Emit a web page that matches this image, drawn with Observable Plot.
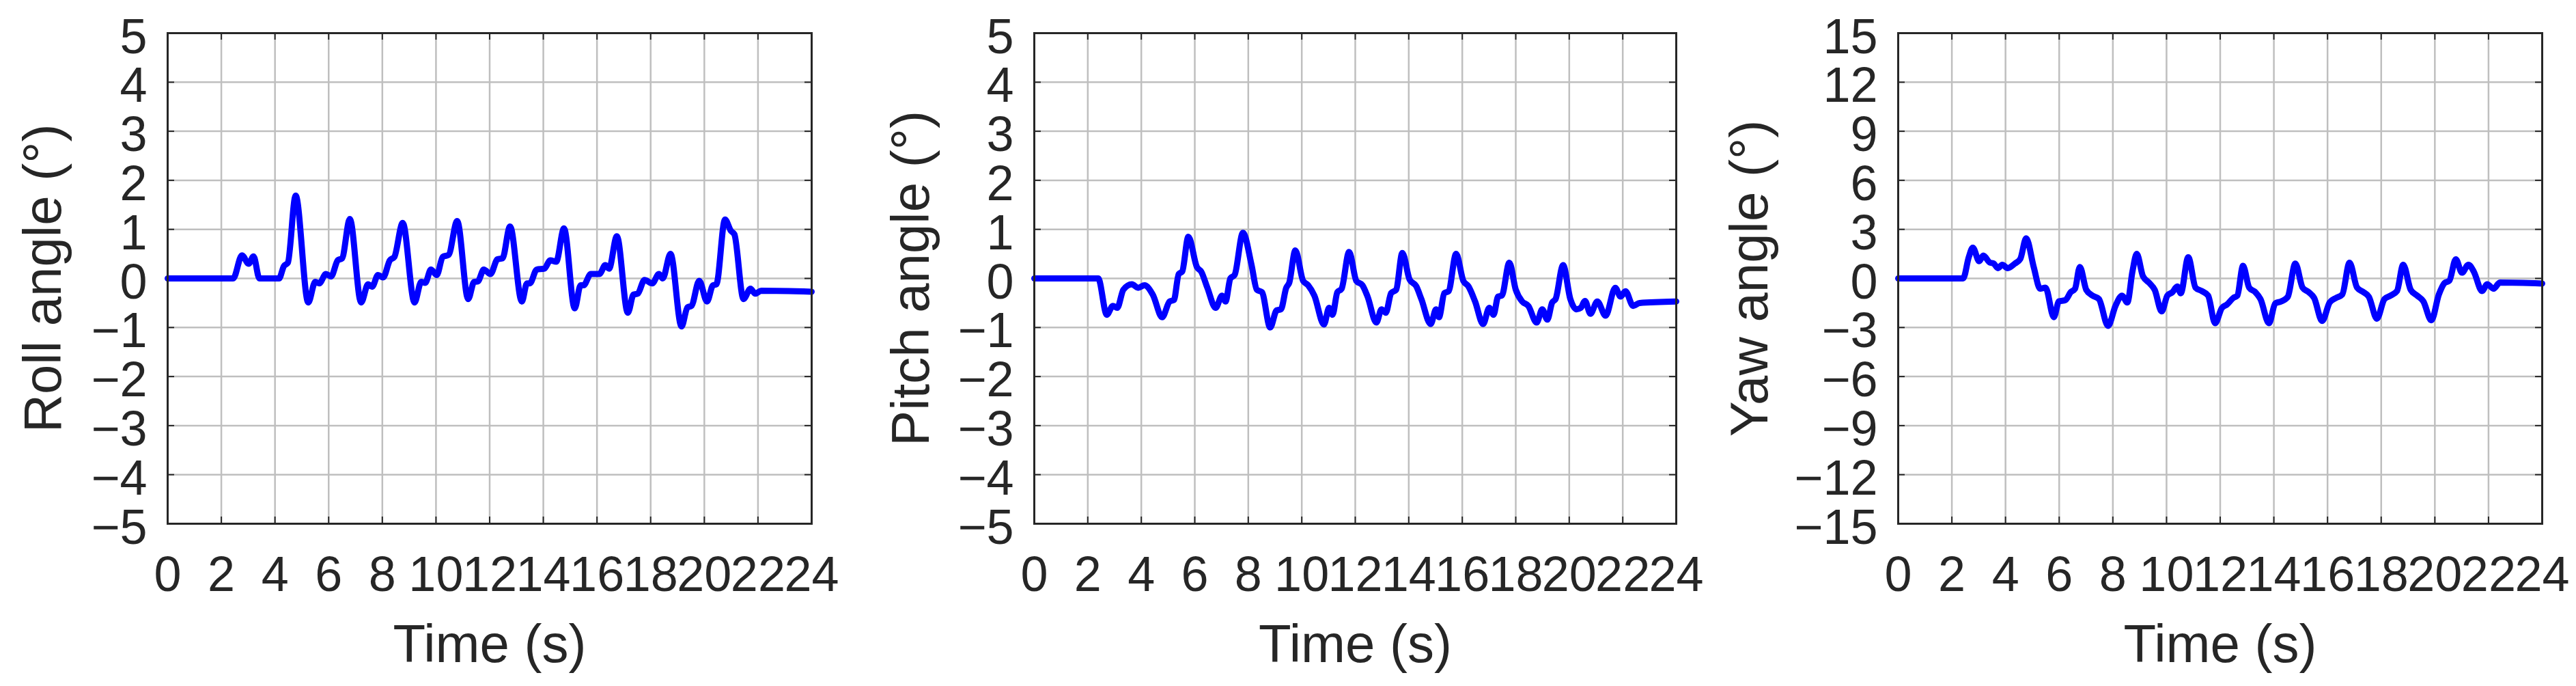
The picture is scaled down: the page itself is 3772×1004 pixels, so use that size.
<!DOCTYPE html>
<html>
<head>
<meta charset="utf-8">
<script src="https://cdn.jsdelivr.net/npm/d3@7"></script>
<script src="https://cdn.jsdelivr.net/npm/@observablehq/plot@0.6"></script>
<style>
  html, body { margin: 0; padding: 0; background: #fff; }
  #wrap { position: relative; width: 3772px; height: 1004px; overflow: hidden; }
  #wrap > div { position: absolute; top: 0; }
</style>
</head>
<body>
<div id="wrap"></div>
<script>
// ---------- data (time in s, angle in degrees) ----------
const xLabel = "Time (s)";
const yLabels = ["Roll angle (°)", "Pitch angle (°)", "Yaw angle (°)"];
const xTicks = [0, 2, 4, 6, 8, 10, 12, 14, 16, 18, 20, 22, 24];
const rollTicks = [-5, -4, -3, -2, -1, 0, 1, 2, 3, 4, 5];
const pitchTicks = [-5, -4, -3, -2, -1, 0, 1, 2, 3, 4, 5];
const yawTicks = [-15, -12, -9, -6, -3, 0, 3, 6, 9, 12, 15];

const roll = [
  [0,0],[2.44,0],[2.77,0.47],[3.02,0.30],[3.2,0.45],[3.42,0],[4.15,0],[4.33,0.25],[4.48,0.32],
  [4.77,1.69],[5.24,-0.49],[5.5,-0.07],[5.65,-0.1],[5.9,0.09],[6.09,0.04],[6.34,0.37],[6.5,0.41],
  [6.79,1.21],[7.21,-0.49],[7.47,-0.12],[7.62,-0.17],[7.84,0.07],[8.03,0.02],[8.28,0.37],[8.45,0.44],
  [8.76,1.13],[9.2,-0.49],[9.45,-0.07],[9.6,-0.09],[9.81,0.18],[10.03,0.07],[10.25,0.44],[10.47,0.48],
  [10.79,1.17],[11.2,-0.42],[11.42,-0.07],[11.56,-0.06],[11.78,0.18],[12.03,0.09],[12.29,0.39],[12.48,0.41],
  [12.76,1.06],[13.2,-0.47],[13.39,-0.1],[13.5,-0.1],[13.75,0.18],[14.04,0.2],[14.26,0.37],[14.48,0.34],
  [14.77,1.02],[15.17,-0.61],[15.39,-0.14],[15.5,-0.14],[15.77,0.09],[16.09,0.09],[16.31,0.27],[16.45,0.2],
  [16.74,0.86],[17.15,-0.7],[17.36,-0.33],[17.52,-0.31],[17.77,-0.03],[18.06,-0.1],[18.31,0.09],[18.45,0],
  [18.74,0.5],[19.15,-0.98],[19.37,-0.59],[19.52,-0.56],[19.81,-0.05],[20.1,-0.47],[20.32,-0.14],[20.45,-0.12],
  [20.77,1.2],[20.99,0.97],[21.12,0.9],[21.46,-0.42],[21.72,-0.21],[21.9,-0.31],[22.12,-0.25],[24,-0.27]
];

const pitch = [
  [0,0],[2.39,0],[2.71,-0.74],[2.94,-0.56],[3.1,-0.6],[3.33,-0.23],[3.65,-0.12],[3.88,-0.19],[4.12,-0.14],
  [4.43,-0.33],[4.78,-0.79],[5.06,-0.47],[5.22,-0.44],[5.4,0.09],[5.53,0.14],[5.76,0.85],[6.08,0.23],
  [6.24,0.14],[6.47,-0.19],[6.78,-0.6],[7.02,-0.35],[7.15,-0.47],[7.33,0],[7.49,0.07],[7.8,0.93],
  [8.12,0.28],[8.32,-0.23],[8.51,-0.28],[8.82,-1.0],[9.06,-0.65],[9.22,-0.63],[9.42,-0.19],[9.53,-0.09],
  [9.76,0.57],[10.05,-0.05],[10.24,-0.14],[10.47,-0.35],[10.83,-0.94],[11.02,-0.6],[11.15,-0.74],[11.33,-0.28],
  [11.49,-0.21],[11.77,0.54],[12.04,-0.05],[12.27,-0.14],[12.46,-0.37],[12.79,-0.9],[12.98,-0.63],[13.14,-0.7],
  [13.34,-0.3],[13.53,-0.23],[13.76,0.52],[14.03,-0.02],[14.28,-0.16],[14.47,-0.42],[14.82,-0.93],[15.02,-0.63],
  [15.13,-0.79],[15.33,-0.3],[15.49,-0.26],[15.77,0.5],[16.04,-0.05],[16.23,-0.16],[16.48,-0.47],[16.78,-0.93],
  [17.01,-0.6],[17.17,-0.74],[17.34,-0.37],[17.48,-0.35],[17.76,0.32],[18.0,-0.23],[18.24,-0.47],[18.47,-0.56],
  [18.78,-0.9],[18.99,-0.63],[19.18,-0.84],[19.36,-0.49],[19.49,-0.42],[19.77,0.27],[20.04,-0.42],[20.27,-0.63],
  [20.43,-0.6],[20.59,-0.46],[20.79,-0.72],[21.05,-0.47],[21.36,-0.76],[21.72,-0.19],[21.92,-0.37],[22.1,-0.26],
  [22.39,-0.56],[22.63,-0.5],[24,-0.47]
];

const yaw = [
  [0,0],[2.42,0],[2.63,1.3],[2.78,1.88],[3.02,1.05],[3.17,1.4],[3.41,0.98],[3.56,0.91],[3.72,0.63],
  [3.88,0.84],[4.08,0.63],[4.35,0.91],[4.55,1.19],[4.77,2.45],[5.05,0.7],[5.29,-0.63],[5.49,-0.56],
  [5.8,-2.37],[5.99,-1.4],[6.23,-1.33],[6.43,-0.84],[6.59,-0.63],[6.77,0.7],[7.01,-0.7],[7.24,-1.05],
  [7.48,-1.26],[7.82,-2.9],[8.1,-1.67],[8.34,-1.05],[8.54,-1.47],[8.73,0.42],[8.89,1.5],[9.12,0.14],
  [9.36,-0.28],[9.56,-0.7],[9.82,-2.02],[10.03,-1.05],[10.22,-0.84],[10.4,-0.49],[10.53,-0.91],[10.81,1.3],
  [11.08,-0.56],[11.31,-0.77],[11.55,-1.05],[11.81,-2.74],[12.06,-1.81],[12.25,-1.6],[12.49,-1.19],[12.64,-1.05],
  [12.85,0.77],[13.08,-0.56],[13.31,-0.84],[13.5,-1.26],[13.82,-2.74],[14.05,-1.53],[14.28,-1.4],[14.52,-1.12],
  [14.8,0.91],[15.07,-0.56],[15.3,-0.84],[15.5,-1.19],[15.8,-2.6],[16.08,-1.47],[16.32,-1.19],[16.55,-0.98],
  [16.82,0.96],[17.1,-0.56],[17.34,-0.84],[17.54,-1.12],[17.84,-2.46],[18.12,-1.26],[18.35,-1.05],[18.59,-0.77],
  [18.82,0.84],[19.1,-0.7],[19.34,-1.05],[19.57,-1.4],[19.87,-2.56],[20.15,-0.98],[20.36,-0.28],[20.54,-0.14],
  [20.78,1.17],[21.01,0.35],[21.25,0.84],[21.45,0.42],[21.76,-0.77],[21.95,-0.35],[22.19,-0.63],[22.42,-0.25],
  [24,-0.31]
];

// ---------- layout ----------
const FONT = "'Liberation Sans', Arial, Helvetica, sans-serif";
const INK = "#262626";
const GRID = "#bfbfbf";
const H = 1004, MT = 48, MB = 238;
const fmt = d3.format("d");
const panels = [
  {data: roll,  ticks: rollTicks,  domain: [-5, 5],   label: yLabels[0], left: 0,    width: 1257, ml: 245, mr: 69, lo: 212},
  {data: pitch, ticks: pitchTicks, domain: [-5, 5],   label: yLabels[1], left: 1257, width: 1257, ml: 257, mr: 60, lo: 210},
  {data: yaw,   ticks: yawTicks,   domain: [-15, 15], label: yLabels[2], left: 2514, width: 1258, ml: 265, mr: 50, lo: 247}
];

const wrap = document.getElementById("wrap");
for (const p of panels) {
  const fw = p.width - p.ml - p.mr;
  const fh = H - MT - MB;
  const tickStyle = {stroke: INK, strokeWidth: 2};
  const chart = Plot.plot({
    width: p.width,
    height: H,
    marginLeft: p.ml,
    marginRight: p.mr,
    marginTop: MT,
    marginBottom: MB,
    style: {fontFamily: FONT, color: INK, background: "transparent", overflow: "visible"},
    x: {domain: [0, 24]},
    y: {domain: p.domain},
    marks: [
      Plot.gridX(xTicks, {stroke: GRID, strokeOpacity: 1, strokeWidth: 2.5}),
      Plot.gridY(p.ticks, {stroke: GRID, strokeOpacity: 1, strokeWidth: 2.5}),
      Plot.tickY(p.ticks, {y: d => d, insetRight: fw - 10, ...tickStyle}),
      Plot.tickY(p.ticks, {y: d => d, insetLeft: fw - 10, ...tickStyle}),
      Plot.tickX(xTicks, {x: d => d, insetTop: fh - 10, ...tickStyle}),
      Plot.tickX(xTicks, {x: d => d, insetBottom: fh - 10, ...tickStyle}),
      Plot.line(p.data, {x: d => d[0], y: d => d[1], stroke: "#0000ff", strokeWidth: 9, curve: "monotone-x", strokeLinejoin: "round", strokeLinecap: "round"}),
      Plot.frame({stroke: INK, strokeWidth: 3}),
      Plot.axisX(xTicks, {tickSize: 0, tickPadding: 47, fontSize: 72, fill: INK, label: null, tickFormat: fmt}),
      Plot.axisY(p.ticks, {tickSize: 0, tickPadding: 30, fontSize: 72, fill: INK, label: null, dy: 6, tickFormat: fmt}),
      Plot.text([p.label], {text: d => d, frameAnchor: "left", rotate: -90, dx: -p.lo, lineAnchor: "top", textAnchor: "middle", fontSize: 78, fill: INK}),
      Plot.text([xLabel], {text: d => d, frameAnchor: "bottom", dy: 202, lineAnchor: "bottom", textAnchor: "middle", fontSize: 78, fill: INK})
    ]
  });
  const holder = document.createElement("div");
  holder.style.left = p.left + "px";
  holder.appendChild(chart);
  wrap.appendChild(holder);
}
</script>
</body>
</html>
